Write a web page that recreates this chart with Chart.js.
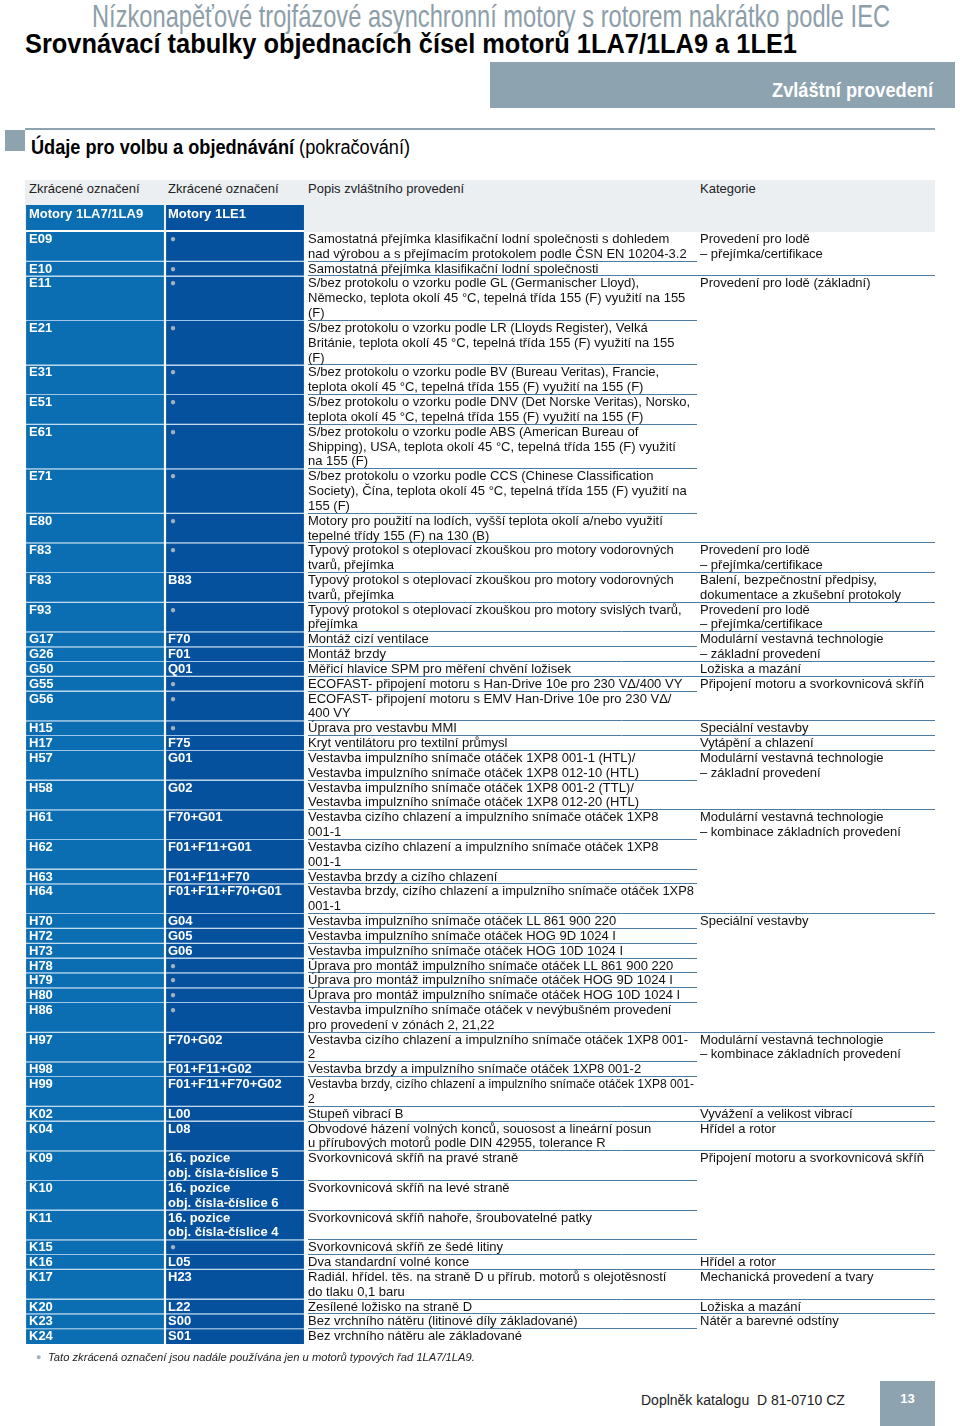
<!DOCTYPE html>
<html lang="cs">
<head>
<meta charset="utf-8">
<script src="https://cdn.jsdelivr.net/npm/chart.js@4.4.1/dist/chart.umd.min.js"></script>
<style>
  body { margin: 0; background: #fff; font-family: "Liberation Sans", Arial, sans-serif; color: #111; }
  #page { position: relative; width: 960px; height: 1426px; overflow: hidden; }
  .abs { position: absolute; white-space: nowrap; }
  .fit { display: inline-block; transform-origin: left top; }
  #t1 { left: 92px; top: 0px; font-size: 32px; line-height: 32px; color: #8d9ea9; }
  #t2 { left: 25px; top: 31px; font-size: 27px; line-height: 27px; font-weight: bold; color: #000; }
  #banner { left: 490px; top: 62px; width: 465px; height: 46px; background: #8ea3b0; }
  #bannerTxt { top: 79px; font-size: 21px; line-height: 21px; font-weight: bold; color: #fff; }
  #secLine { left: 25px; top: 128px; width: 910px; height: 2px; background: #8ea3b0; }
  #secBox { left: 5px; top: 130px; width: 20px; height: 21px; background: #8ea3b0; }
  #secTxt { left: 31px; top: 137px; font-size: 20px; line-height: 20px; color: #000; }
  #hdrBand { left: 25px; top: 180px; width: 910px; height: 52px; background: #eceff2; }
  .hdr { top: 182px; font-size: 13px; line-height: 13px; color: #222; }
  #tbl { left: 25px; top: 205px; }
  .cell { position: absolute; white-space: pre; font-size: 13px; color: #111; transform-origin: left top; }
  .code { color: #fff; font-weight: bold; }
  .dot { color: #a3b1be; font-size: 10px; }
  #note { left: 48px; top: 1352px; font-size: 11.2px; line-height: 11px; font-style: italic; color: #222; }
  #noteDot { left: 36px; top: 1352px; font-size: 9px; line-height: 11px; color: #a3b1be; }
  #footer { left: 641px; top: 1393px; font-size: 14px; line-height: 14px; color: #222; }
  #pageBox { left: 880px; top: 1381px; width: 55px; height: 45px; background: #8ea3b0; }
  #pageNo { left: 880px; top: 1392px; width: 55px; text-align: center; font-size: 13px; line-height: 13px; font-weight: bold; color: #fff; }
</style>
</head>
<body>
<div id="page">
  <div class="abs" id="t1"><span class="fit" id="t1s">Nízkonapěťové trojfázové asynchronní motory s rotorem nakrátko podle IEC</span></div>
  <div class="abs" id="t2"><span class="fit" id="t2s">Srovnávací tabulky objednacích čísel motorů 1LA7/1LA9 a 1LE1</span></div>
  <div class="abs" id="banner"></div>
  <div class="abs" id="bannerTxt"><span class="fit" id="bannerS">Zvláštní provedení</span></div>
  <div class="abs" id="secLine"></div>
  <div class="abs" id="secBox"></div>
  <div class="abs" id="secTxt"><span class="fit" id="secS"><b>Údaje pro volbu a objednávání</b> (pokračování)</span></div>
  <div class="abs" id="hdrBand"></div>
  <div class="abs hdr" style="left:29px">Zkrácené označení</div>
  <div class="abs hdr" style="left:168px">Zkrácené označení</div>
  <div class="abs hdr" style="left:308px">Popis zvláštního provedení</div>
  <div class="abs hdr" style="left:700px">Kategorie</div>
  <div class="abs" id="tbl">
    <canvas id="grafico" width="910" height="1139"></canvas>
  </div>
  <div class="abs" id="noteDot">●</div>
  <div class="abs" id="note">Tato zkrácená označení jsou nadále používána jen u motorů typových řad 1LA7/1LA9.</div>
  <div class="abs" id="footer">Doplněk katalogu&nbsp; D 81-0710 CZ</div>
  <div class="abs" id="pageBox"></div>
  <div class="abs" id="pageNo">13</div>
</div>

<script>
// =========================
// DATA
// =========================
const sloupce = ["Motory 1LA7/1LA9", "Motory 1LE1"];

const kod1LA = [
  "E09", "E10", "E11", "E21", "E31", "E51", "E61", "E71", "E80",
  "F83", "F83", "F93",
  "G17", "G26", "G50", "G55", "G56",
  "H15", "H17", "H57", "H58", "H61", "H62", "H63", "H64",
  "H70", "H72", "H73", "H78", "H79", "H80", "H86", "H97", "H98", "H99",
  "K02", "K04", "K09", "K10", "K11", "K15", "K16", "K17", "K20", "K23", "K24"
];

// "●" = zkrácené označení se u 1LE1 nepoužívá
const kod1LE = [
  "●", "●", "●", "●", "●", "●", "●", "●", "●",
  "●", "B83", "●",
  "F70", "F01", "Q01", "●", "●",
  "●", "F75", "G01", "G02", "F70+G01", "F01+F11+G01", "F01+F11+F70", "F01+F11+F70+G01",
  "G04", "G05", "G06", "●", "●", "●", "●", "F70+G02", "F01+F11+G02", "F01+F11+F70+G02",
  "L00", "L08", "16. pozice\nobj. čísla-číslice 5", "16. pozice\nobj. čísla-číslice 6",
  "16. pozice\nobj. čísla-číslice 4", "●", "L05", "H23", "L22", "S00", "S01"
];

const popis = [
  "Samostatná přejímka klasifikační lodní společnosti s dohledem\nnad výrobou a s přejímacím protokolem podle ČSN EN 10204-3.2",
  "Samostatná přejímka klasifikační lodní společnosti",
  "S/bez protokolu o vzorku podle GL (Germanischer Lloyd),\nNěmecko, teplota okolí 45 °C, tepelná třída 155 (F) využití na 155\n(F)",
  "S/bez protokolu o vzorku podle LR (Lloyds Register), Velká\nBritánie, teplota okolí 45 °C, tepelná třída 155 (F) využití na 155\n(F)",
  "S/bez protokolu o vzorku podle BV (Bureau Veritas), Francie,\nteplota okolí 45 °C, tepelná třída 155 (F) využití na 155 (F)",
  "S/bez protokolu o vzorku podle DNV (Det Norske Veritas), Norsko,\nteplota okolí 45 °C, tepelná třída 155 (F) využití na 155 (F)",
  "S/bez protokolu o vzorku podle ABS (American Bureau of\nShipping), USA, teplota okolí 45 °C, tepelná třída 155 (F) využití\nna 155 (F)",
  "S/bez protokolu o vzorku podle CCS (Chinese Classification\nSociety), Čína, teplota okolí 45 °C, tepelná třída 155 (F) využití na\n155 (F)",
  "Motory pro použití na lodích, vyšší teplota okolí a/nebo využití\ntepelné třídy 155 (F) na 130 (B)",
  "Typový protokol s oteplovací zkouškou pro motory vodorovných\ntvarů, přejímka",
  "Typový protokol s oteplovací zkouškou pro motory vodorovných\ntvarů, přejímka",
  "Typový protokol s oteplovací zkouškou pro motory svislých tvarů,\npřejímka",
  "Montáž cizí ventilace",
  "Montáž brzdy",
  "Měřicí hlavice SPM pro měření chvění ložisek",
  "ECOFAST- připojení motoru s Han-Drive 10e pro 230 VΔ/400 VY",
  "ECOFAST- připojení motoru s EMV Han-Drive 10e pro 230 VΔ/\n400 VY",
  "Úprava pro vestavbu MMI",
  "Kryt ventilátoru pro textilní průmysl",
  "Vestavba impulzního snímače otáček 1XP8 001-1 (HTL)/\nVestavba impulzního snímače otáček 1XP8 012-10 (HTL)",
  "Vestavba impulzního snímače otáček 1XP8 001-2 (TTL)/\nVestavba impulzního snímače otáček 1XP8 012-20 (HTL)",
  "Vestavba cizího chlazení a impulzního snímače otáček 1XP8\n001-1",
  "Vestavba cizího chlazení a impulzního snímače otáček 1XP8\n001-1",
  "Vestavba brzdy a cizího chlazení",
  "Vestavba brzdy, cizího chlazení a impulzního snímače otáček 1XP8\n001-1",
  "Vestavba impulzního snímače otáček LL 861 900 220",
  "Vestavba impulzního snímače otáček HOG 9D 1024 I",
  "Vestavba impulzního snímače otáček HOG 10D 1024 I",
  "Úprava pro montáž impulzního snímače otáček LL 861 900 220",
  "Úprava pro montáž impulzního snímače otáček HOG 9D 1024 I",
  "Úprava pro montáž impulzního snímače otáček HOG 10D 1024 I",
  "Vestavba impulzního snímače otáček v nevýbušném provedení\npro provedení v zónách 2, 21,22",
  "Vestavba cizího chlazení a impulzního snímače otáček 1XP8 001-\n2",
  "Vestavba brzdy a impulzního snímače otáček 1XP8 001-2",
  "Vestavba brzdy, cizího chlazení a impulzního snímače otáček 1XP8 001-\n2",
  "Stupeň vibrací B",
  "Obvodové házení volných konců, souosost a lineární posun\nu přírubových motorů podle DIN 42955, tolerance R",
  "Svorkovnicová skříň na pravé straně",
  "Svorkovnicová skříň na levé straně",
  "Svorkovnicová skříň nahoře, šroubovatelné patky",
  "Svorkovnicová skříň ze šedé litiny",
  "Dva standardní volné konce",
  "Radiál. hřídel. těs. na straně D u přírub. motorů s olejotěsností\ndo tlaku 0,1 baru",
  "Zesílené ložisko na straně D",
  "Bez vrchního nátěru (litinové díly základované)",
  "Bez vrchního nátěru ale základované"
];

// "" = pokračuje kategorie z předchozího řádku
const kategorie = [
  "Provedení pro lodě\n– přejímka/certifikace", "",
  "Provedení pro lodě (základní)", "", "", "", "", "", "",
  "Provedení pro lodě\n– přejímka/certifikace",
  "Balení, bezpečnostní předpisy,\ndokumentace a zkušební protokoly",
  "Provedení pro lodě\n– přejímka/certifikace",
  "Modulární vestavná technologie\n– základní provedení", "",
  "Ložiska a mazání",
  "Připojení motoru a svorkovnicová skříň", "",
  "Speciální vestavby",
  "Vytápění a chlazení",
  "Modulární vestavná technologie\n– základní provedení", "",
  "Modulární vestavná technologie\n– kombinace základních provedení", "", "", "",
  "Speciální vestavby", "", "", "", "", "", "",
  "Modulární vestavná technologie\n– kombinace základních provedení", "", "",
  "Vyvážení a velikost vibrací",
  "Hřídel a rotor",
  "Připojení motoru a svorkovnicová skříň", "", "", "",
  "Hřídel a rotor",
  "Mechanická provedení a tvary",
  "Ložiska a mazání",
  "Nátěr a barevné odstíny", ""
];

// =========================
// LAYOUT
// =========================
const AZUL_1   = "#0b6eb2";
const AZUL_2   = "#06519d";
const SEP_AZUL = "#9fc6e6";
const LINHA    = "#4f7b9f";
const HDR_LINHAS = 1.82;   // výška řádku "Motory ..." v jednotkách řádku textu
const X_POPIS  = 283;      // vůči levému okraji plátna
const X_KAT    = 675;
const X_KONEC  = 910;
const MAX_POPIS = 386;

const n = kod1LA.length;
const inicio = [], fim = [];
let acc = 0;
for (let i = 0; i < n; i++) {
  const linhas = Math.max(popis[i].split("\n").length, kod1LE[i].split("\n").length);
  inicio.push(acc);
  acc += linhas;
  fim.push(acc);
}
const total = acc;
const fimGrupo = kategorie.map((k, i) => i === n - 1 || kategorie[i + 1] !== "");

const datasets = [{
  data: [[-HDR_LINHAS, 0], [-HDR_LINHAS, 0]],
  backgroundColor: [AZUL_1, AZUL_2],
  borderColor: "#ffffff",
  borderWidth: { top: 0, left: 0, right: 0, bottom: 2 },
  borderSkipped: false,
  grouped: false,
  categoryPercentage: 1,
  barPercentage: 0.985
}];
for (let i = 0; i < n; i++) {
  datasets.push({
    data: [[inicio[i], fim[i]], [inicio[i], fim[i]]],
    backgroundColor: [AZUL_1, AZUL_2],
    borderColor: SEP_AZUL,
    borderWidth: { top: 0, left: 0, right: 0, bottom: i < n - 1 ? 1 : 0 },
    borderSkipped: false,
    grouped: false,
    categoryPercentage: 1,
    barPercentage: 0.985
  });
}

// čáry mezi řádky ve sloupcích popisu a kategorie
const linhasPlugin = {
  id: "linhas",
  afterDraw(chart) {
    const ctx = chart.ctx;
    const y = chart.scales.y;
    ctx.save();
    ctx.strokeStyle = LINHA;
    ctx.lineWidth = 1;
    for (let i = 0; i < n - 1; i++) {
      const py = Math.round(y.getPixelForValue(fim[i])) - 0.5;
      ctx.beginPath();
      ctx.moveTo(X_POPIS, py);
      ctx.lineTo(fimGrupo[i] ? X_KONEC : X_KAT - 3, py);
      ctx.stroke();
    }
    ctx.restore();
  }
};

const grafico = new Chart(document.getElementById("grafico"), {
  type: "bar",
  data: { labels: sloupce, datasets },
  options: {
    responsive: false,
    animation: false,
    layout: { padding: { left: 0, right: 630, top: 0, bottom: 0 } },
    plugins: { legend: { display: false }, tooltip: { enabled: false } },
    scales: {
      x: { display: false },
      y: { display: false, reverse: true, min: -HDR_LINHAS, max: total }
    }
  },
  plugins: [linhasPlugin]
});

// =========================
// TEXTY V TABULCE
// =========================
const tbl = document.getElementById("tbl");
const ys = grafico.scales.y;
const lh = ys.getPixelForValue(1) - ys.getPixelForValue(0);

function celula(txt, left, top, cls, maxW) {
  const d = document.createElement("div");
  d.className = "cell " + (cls || "");
  d.style.left = left + "px";
  d.style.top = top + "px";
  d.style.lineHeight = lh + "px";
  d.textContent = txt;
  tbl.appendChild(d);
  if (maxW) {
    const w = d.getBoundingClientRect().width;
    if (w > maxW) d.style.transform = `scaleX(${maxW / w})`;
  }
}

const topoHdr = ys.getPixelForValue(-HDR_LINHAS) + 1.6;
celula(sloupce[0], 4, topoHdr, "code");
celula(sloupce[1], 143, topoHdr, "code");

for (let i = 0; i < n; i++) {
  const top = ys.getPixelForValue(inicio[i]);
  celula(kod1LA[i], 4, top, "code");
  if (kod1LE[i] === "●") celula("●", 145, top, "dot");
  else celula(kod1LE[i], 143, top, "code");
  celula(popis[i], X_POPIS, top, "", MAX_POPIS);
  if (kategorie[i]) celula(kategorie[i], X_KAT, top);
}

// =========================
// NADPISY
// =========================
function ajustar(id, largura) {
  const el = document.getElementById(id);
  const w = el.getBoundingClientRect().width;
  el.style.transform = `scaleX(${largura / w})`;
}
ajustar("t1s", 798);
ajustar("t2s", 772);
ajustar("secS", 379);
ajustar("bannerS", 161);
document.getElementById("bannerTxt").style.left = "772px";
</script>
</body>
</html>
